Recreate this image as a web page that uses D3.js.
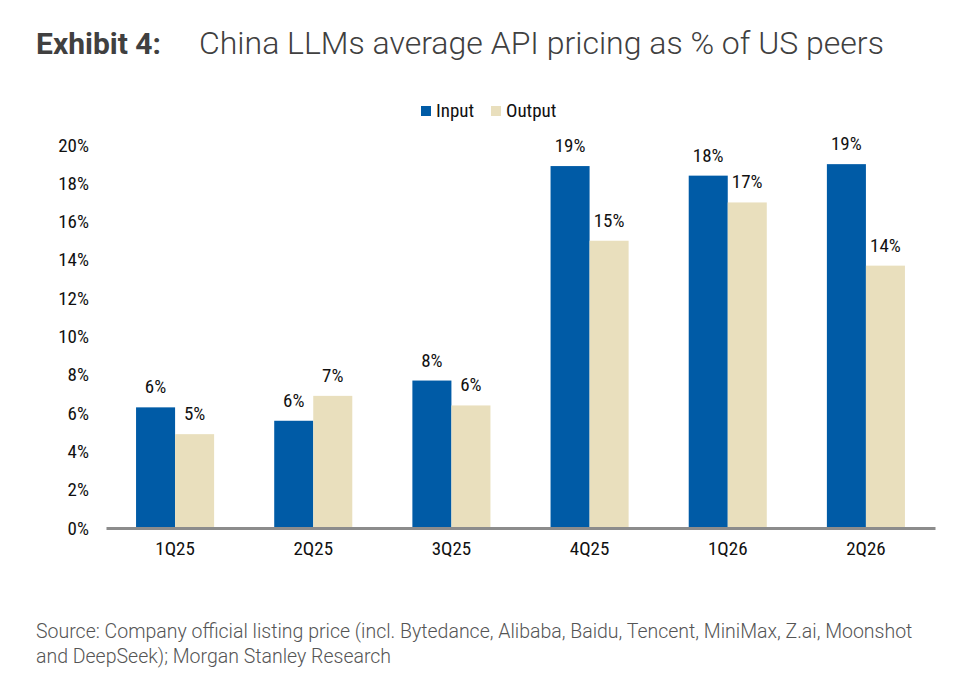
<!DOCTYPE html>
<html>
<head>
<meta charset="utf-8">
<script src="https://cdn.jsdelivr.net/npm/d3@7"></script>
<style>
  body { margin: 0; background: #fff; }
  svg { display: block; }
  .narrow { font-family: "Liberation Sans Narrow", "Roboto Condensed", "DejaVu Sans Condensed", sans-serif; }
</style>
</head>
<body>
<div id="chart"></div>
<script>
// data
var quarters = ["1Q25", "2Q25", "3Q25", "4Q25", "1Q26", "2Q26"];
var inputVals = [6.3, 5.6, 7.7, 18.9, 18.4, 19.0];
var outputVals = [4.9, 6.9, 6.4, 15.0, 17.0, 13.7];
var seriesNames = ["Input", "Output"];
var yTicks = [0, 2, 4, 6, 8, 10, 12, 14, 16, 18, 20];

var W = 968, H = 694;
var colors = { Input: "#005BA6", Output: "#E9DFBD" };

var svg = d3.select("#chart").append("svg")
  .attr("width", W)
  .attr("height", H);

// title
var title = svg.append("text")
  .attr("x", 36)
  .attr("y", 54)
  .attr("fill", "#404040")
  .style("font-family", "Roboto, sans-serif");
title.append("tspan").attr("font-weight", 700).style("font-size", "30px").text("Exhibit 4:");
title.append("tspan").attr("x", 199).attr("font-weight", 300).style("font-size", "32px")
  .text("China LLMs average API pricing as % of US peers");

// scales
var x0 = d3.scaleBand()
  .domain(quarters)
  .range([106, 935])
  .paddingInner(0.435)
  .paddingOuter(0.2175);
var x1 = d3.scaleBand()
  .domain(seriesNames)
  .range([0, x0.bandwidth()]);
var y = d3.scaleLinear()
  .domain([0, 20])
  .range([528, 145]);

var rows = quarters.map(function (q, i) {
  return { q: q, Input: inputVals[i], Output: outputVals[i] };
});

// y axis labels only
var yAxis = svg.append("g")
  .attr("class", "narrow")
  .attr("transform", "translate(89,0)")
  .call(d3.axisLeft(y).tickValues(yTicks).tickSize(0).tickPadding(0)
    .tickFormat(function (d) { return d + "%"; }));
yAxis.select(".domain").remove();
yAxis.selectAll("text")
  .attr("fill", "#111")
  .style("font-size", "19px")
  .style("font-family", "\"Liberation Sans Narrow\", \"Roboto Condensed\", sans-serif");

// bars
var groups = svg.selectAll(".grp")
  .data(rows)
  .enter().append("g")
  .attr("class", "grp")
  .attr("transform", function (d) { return "translate(" + x0(d.q) + ",0)"; });

groups.selectAll("rect")
  .data(function (d) { return seriesNames.map(function (s) { return { s: s, v: d[s] }; }); })
  .enter().append("rect")
  .attr("x", function (d) { return x1(d.s); })
  .attr("width", x1.bandwidth())
  .attr("y", function (d) { return y(d.v); })
  .attr("height", function (d) { return y(0) - y(d.v); })
  .attr("fill", function (d) { return colors[d.s]; });

groups.selectAll(".lbl")
  .data(function (d) { return seriesNames.map(function (s) { return { s: s, v: d[s] }; }); })
  .enter().append("text")
  .attr("class", "lbl narrow")
  .attr("x", function (d) { return x1(d.s) + x1.bandwidth() / 2; })
  .attr("y", function (d) { return y(d.v) - 14; })
  .attr("text-anchor", "middle")
  .attr("fill", "#111")
  .style("font-size", "19px")
  .text(function (d) { return Math.round(d.v) + "%"; });

// x axis
var xAxis = svg.append("g")
  .attr("class", "narrow")
  .attr("transform", "translate(0," + y(0) + ")")
  .call(d3.axisBottom(x0).tickSize(0).tickPadding(14));
xAxis.select(".domain")
  .attr("stroke", "#8c8c8c")
  .attr("stroke-width", 3);
xAxis.selectAll("text")
  .attr("fill", "#111")
  .style("font-size", "19px")
  .style("font-family", "\"Liberation Sans Narrow\", \"Roboto Condensed\", sans-serif");

// legend
var legX = [421, 491];
var leg = svg.selectAll(".leg")
  .data(seriesNames)
  .enter().append("g")
  .attr("class", "leg narrow")
  .attr("transform", function (d, i) { return "translate(" + legX[i] + ",106)"; });
leg.append("rect")
  .attr("width", 10).attr("height", 10)
  .attr("fill", function (d) { return colors[d]; });
leg.append("text")
  .attr("x", 15).attr("y", 11)
  .attr("fill", "#111")
  .style("font-size", "19px")
  .text(function (d) { return d; });

// source
var src = svg.append("text")
  .attr("fill", "#555")
  .style("font-family", "Roboto, sans-serif")
  .style("font-weight", 300)
  .style("font-size", "19.5px");
src.append("tspan").attr("x", 36).attr("y", 638)
  .text("Source: Company official listing price (incl. Bytedance, Alibaba, Baidu, Tencent, MiniMax, Z.ai, Moonshot");
src.append("tspan").attr("x", 36).attr("y", 663)
  .text("and DeepSeek); Morgan Stanley Research");
</script>
</body>
</html>
